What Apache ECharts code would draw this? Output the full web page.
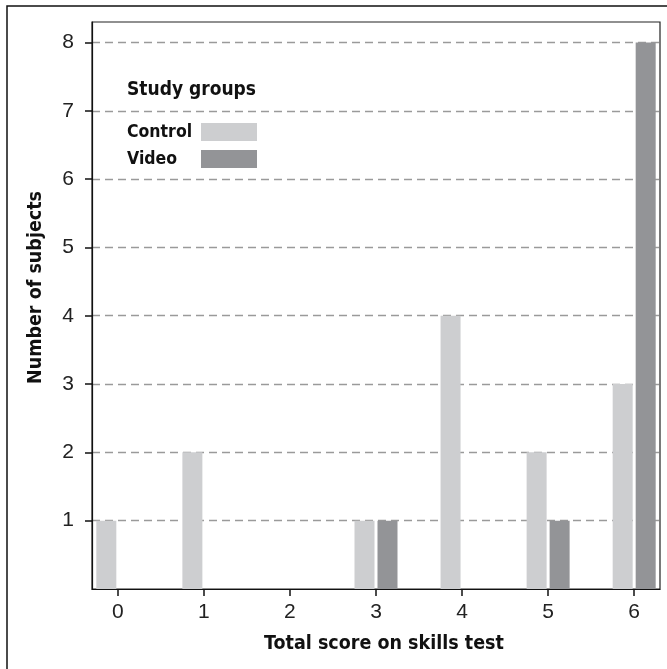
<!DOCTYPE html>
<html>
<head>
<meta charset="utf-8">
<script src="https://cdn.jsdelivr.net/npm/echarts@6/dist/echarts.min.js"></script>
<style>
html, body { margin: 0; padding: 0; background: #fff; }
#chart { width: 667px; height: 669px; }
</style>
</head>
<body>
<div id="chart"></div>
<script>
// data
const scores = [0, 1, 2, 3, 4, 5, 6];
const controlCounts = [1, 2, 0, 1, 4, 2, 3];
const videoCounts = [0, 0, 0, 1, 0, 1, 8];
const yTicks = [1, 2, 3, 4, 5, 6, 7, 8];

const narrow = '"Liberation Sans Narrow", "DejaVu Sans Condensed", "Liberation Sans", sans-serif';
const plain = '"Liberation Sans", Arial, sans-serif';
const chart = echarts.init(document.getElementById('chart'));

const option = {
    animation: false,
    graphic: [{
        type: 'rect',
        shape: { x: 7, y: 6, width: 700, height: 700 },
        style: { fill: 'none', stroke: '#111', lineWidth: 1.5 },
        z: -1
    }],
    title: {
        text: 'Study groups',
        left: 122,
        top: 76,
        textStyle: { fontFamily: narrow, fontWeight: 'bold', fontSize: 19, color: '#111' }
    },
    legend: {
        orient: 'vertical',
        left: 122,
        top: 118,
        align: 'right',
        icon: 'rect',
        itemWidth: 56,
        itemHeight: 18,
        itemGap: 9,
        formatter: '{t|{name}}',
        textStyle: {
            rich: {
                t: { width: 69, align: 'left', fontFamily: narrow, fontWeight: 'bold', fontSize: 17.5, color: '#111', lineHeight: 18 }
            }
        }
    },
    grid: {
        left: 92, right: 7, top: 22, bottom: 80,
        show: true, borderColor: '#222', borderWidth: 1.2
    },
    xAxis: {
        type: 'value',
        min: -0.3,
        max: 6.3,
        name: 'Total score on skills test',
        nameLocation: 'middle',
        nameGap: 45,
        nameTextStyle: { fontFamily: narrow, fontWeight: 'bold', fontSize: 19.5, color: '#111', padding: [0, 0, 0, 16] },
        axisLine: { onZero: false, lineStyle: { color: '#111', width: 1.2 } },
        axisTick: { customValues: scores, length: 7, lineStyle: { color: '#111', width: 1.5 } },
        axisLabel: { customValues: scores, margin: 13, fontFamily: plain, fontSize: 21, color: '#222' },
        splitLine: { show: false }
    },
    yAxis: {
        type: 'value',
        min: 0,
        max: 8.3,
        interval: 1,
        name: 'Number of subjects',
        nameLocation: 'middle',
        nameGap: 46,
        nameTextStyle: { fontFamily: narrow, fontWeight: 'bold', fontSize: 19.5, color: '#111', padding: [0, 0, 0, 36] },
        axisLine: { show: true, onZero: false, lineStyle: { color: '#111', width: 1.2 } },
        axisTick: { show: true, customValues: yTicks, length: 7, lineStyle: { color: '#111', width: 1.5 } },
        axisLabel: { customValues: yTicks, margin: 18, fontFamily: plain, fontSize: 21, color: '#222' },
        splitLine: {
            show: true,
            lineStyle: { color: '#9a9a9a', type: [8, 5], width: 1.3 }
        }
    },
    series: [
        {
            name: 'Control',
            type: 'bar',
            barWidth: 20,
            barGap: '15%',
            itemStyle: { color: '#cdced0' },
            data: scores.map((s, i) => [s, controlCounts[i]])
        },
        {
            name: 'Video',
            type: 'bar',
            barWidth: 20,
            barGap: '15%',
            itemStyle: { color: '#939497' },
            data: scores.map((s, i) => [s, videoCounts[i]])
        }
    ]
};

chart.setOption(option);
</script>
</body>
</html>
